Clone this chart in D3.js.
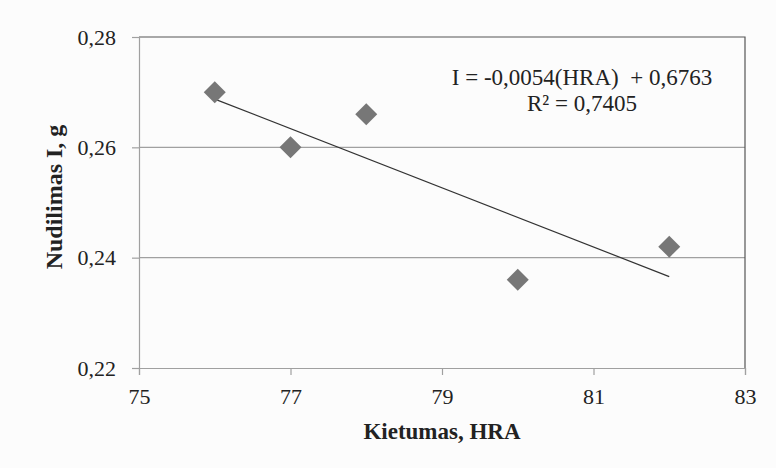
<!DOCTYPE html>
<html lang="en">
<head>
    <meta charset="utf-8">
    <title>Kietumas ir nudilimas</title>
    <script src="https://d3js.org/d3.v7.min.js"></script>
    <style>
        body { margin: 0; background: #fcfcfc; }
        text { font-family: "Liberation Serif", "Times New Roman", serif; fill: #222; }
    </style>
</head>
<body>
<svg id="chart"></svg>
<script>

    // data
    const hardness = [76, 77, 78, 80, 82];
    const wear = [0.270, 0.260, 0.266, 0.236, 0.242];
    const xTicks = [75, 77, 79, 81, 83];
    const yTicks = [0.22, 0.24, 0.26, 0.28];
    const equation = ["I = -0,0054(HRA)  + 0,6763", "R² = 0,7405"];

    let width = 776,
        height = 468,
        margin = {top: 37, right: 31, bottom: 100, left: 139},
        chartWidth = width - margin.left - margin.right,
        chartHeight = height - margin.top - margin.bottom;

    let svg = d3.select("#chart")
        .attr("width", width)
        .attr("height", height);

    let x = d3.scaleLinear().domain([75, 83]).range([0, chartWidth]);
    let y = d3.scaleLinear().domain([0.22, 0.28]).range([chartHeight, 0]);

    let g = svg.append("g")
        .attr("transform", `translate(${margin.left},${margin.top})`);

    // gridlines
    g.selectAll(".grid")
        .data(yTicks.slice(1, 3))
        .enter().append("line")
        .attr("x1", 0).attr("x2", chartWidth)
        .attr("y1", d => y(d)).attr("y2", d => y(d))
        .attr("stroke", "#a0a0a0")
        .attr("stroke-width", 1.2);

    // frame top + right
    g.append("path")
        .attr("d", `M0,${y(0.28)}H${chartWidth}V${chartHeight}`)
        .attr("fill", "none")
        .attr("stroke", "#555")
        .attr("stroke-width", 1.2);

    let fmt = d => d3.format(".2f")(d).replace(".", ",");

    let yAxis = g.append("g")
        .call(d3.axisLeft(y).tickValues(yTicks).tickFormat(fmt).tickSize(7).tickPadding(16));
    let xAxis = g.append("g")
        .attr("transform", `translate(0,${chartHeight})`)
        .call(d3.axisBottom(x).tickValues(xTicks).tickFormat(d3.format("d")).tickSize(7).tickPadding(13));

    [yAxis, xAxis].forEach(a => {
        a.select(".domain").attr("stroke", "#a0a0a0").attr("stroke-width", 1.2);
        a.selectAll(".tick line").attr("stroke", "#a0a0a0").attr("stroke-width", 1.2);
        a.selectAll("text")
            .attr("font-family", "Liberation Serif")
            .attr("font-size", 22)
            .attr("fill", "#2a2a2a");
    });

    // least-squares trend line from the points
    let mx = d3.mean(hardness), my = d3.mean(wear);
    let slope = d3.sum(hardness, (d, i) => (d - mx) * (wear[i] - my)) /
        d3.sum(hardness, d => (d - mx) * (d - mx));
    let trend = d3.extent(hardness).map(h => [h, my + slope * (h - mx)]);

    g.append("path")
        .datum(trend)
        .attr("d", d3.line().x(d => x(d[0])).y(d => y(d[1])))
        .attr("stroke", "#333")
        .attr("stroke-width", 1.2)
        .attr("fill", "none");

    // diamonds
    g.selectAll(".pt")
        .data(hardness)
        .enter().append("path")
        .attr("d", "M0,-11L11,0L0,11L-11,0Z")
        .attr("transform", (d, i) => `translate(${x(d)},${y(wear[i])})`)
        .attr("fill", "#777");

    // equation
    g.selectAll(".eq")
        .data(equation)
        .enter().append("text")
        .attr("x", 443)
        .attr("y", (d, i) => 48 + i * 26)
        .attr("text-anchor", "middle")
        .attr("font-size", 23)
        .style("white-space", "pre")
        .text(d => d);

    // axis titles
    svg.append("text")
        .attr("x", margin.left + chartWidth / 2)
        .attr("y", 439)
        .attr("text-anchor", "middle")
        .attr("font-size", 23)
        .attr("font-weight", "bold")
        .text("Kietumas, HRA");

    svg.append("text")
        .attr("transform", `translate(62,${197}) rotate(-90)`)
        .attr("text-anchor", "middle")
        .attr("font-size", 24)
        .attr("font-weight", "bold")
        .text("Nudilimas I, g");

</script>
</body>
</html>
